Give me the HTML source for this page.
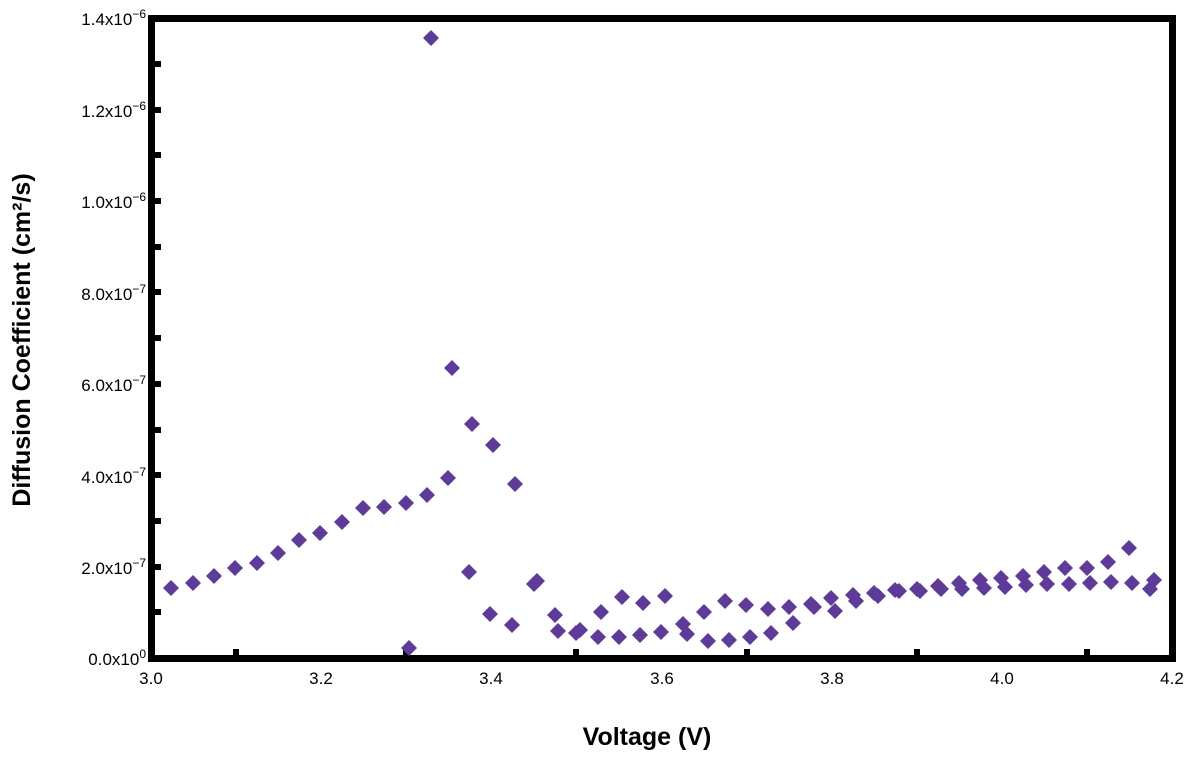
<!DOCTYPE html>
<html><head><meta charset="utf-8"><style>body{margin:0;background:#fff}</style></head><body>
<svg width="1192" height="755" xmlns="http://www.w3.org/2000/svg" font-family="Liberation Sans, sans-serif">
<defs><polygon id="d" points="0,-8 8,0 0,8 -8,0" fill="#5e3b99"/></defs>
<g fill="#000">
<rect x="148" y="15" width="1028" height="7"/>
<rect x="148" y="655" width="1028" height="7"/>
<rect x="148" y="15" width="7" height="647"/>
<rect x="1169" y="15" width="7" height="647"/>
<rect x="155" y="609" width="6" height="6"/>
<rect x="155" y="564" width="6" height="6"/>
<rect x="155" y="518" width="6" height="6"/>
<rect x="155" y="472" width="6" height="6"/>
<rect x="155" y="427" width="6" height="6"/>
<rect x="155" y="381" width="6" height="6"/>
<rect x="155" y="335" width="6" height="6"/>
<rect x="155" y="289" width="6" height="6"/>
<rect x="155" y="244" width="6" height="6"/>
<rect x="155" y="198" width="6" height="6"/>
<rect x="155" y="152" width="6" height="6"/>
<rect x="155" y="107" width="6" height="6"/>
<rect x="155" y="61" width="6" height="6"/>
<rect x="233" y="649" width="6" height="6"/>
<rect x="403" y="649" width="6" height="6"/>
<rect x="573" y="649" width="6" height="6"/>
<rect x="744" y="649" width="6" height="6"/>
<rect x="914" y="649" width="6" height="6"/>
<rect x="1084" y="649" width="6" height="6"/>
</g>
<g font-size="17" text-anchor="end" fill="#000">
<text x="146" y="665">0.0x10<tspan dy="-7" font-size="12">0</tspan></text>
<text x="146" y="574">2.0x10<tspan dy="-7" font-size="12">−7</tspan></text>
<text x="146" y="483">4.0x10<tspan dy="-7" font-size="12">−7</tspan></text>
<text x="146" y="391">6.0x10<tspan dy="-7" font-size="12">−7</tspan></text>
<text x="146" y="300">8.0x10<tspan dy="-7" font-size="12">−7</tspan></text>
<text x="146" y="208">1.0x10<tspan dy="-7" font-size="12">−6</tspan></text>
<text x="146" y="117">1.2x10<tspan dy="-7" font-size="12">−6</tspan></text>
<text x="146" y="25">1.4x10<tspan dy="-7" font-size="12">−6</tspan></text>
</g>
<g font-size="17" text-anchor="middle" fill="#000">
<text x="151" y="684">3.0</text><text x="321" y="684">3.2</text><text x="491" y="684">3.4</text>
<text x="662" y="684">3.6</text><text x="832" y="684">3.8</text><text x="1002" y="684">4.0</text><text x="1172" y="684">4.2</text>
</g>
<text x="647" y="745" font-size="25" font-weight="bold" text-anchor="middle">Voltage (V)</text>
<text transform="translate(30,340) rotate(-90)" font-size="25" font-weight="bold" text-anchor="middle">Diffusion Coefficient (cm²/s)</text>
<g>
<use href="#d" x="171" y="588"/><use href="#d" x="193" y="583"/><use href="#d" x="214" y="576"/><use href="#d" x="235" y="568"/><use href="#d" x="257" y="563"/><use href="#d" x="278" y="553"/><use href="#d" x="299" y="540"/><use href="#d" x="320" y="533"/><use href="#d" x="342" y="522"/><use href="#d" x="363" y="508"/><use href="#d" x="384" y="507"/><use href="#d" x="406" y="503"/><use href="#d" x="427" y="495"/><use href="#d" x="448" y="478"/><use href="#d" x="452" y="368"/><use href="#d" x="472" y="424"/><use href="#d" x="493" y="445"/><use href="#d" x="515" y="484"/><use href="#d" x="431" y="38"/><use href="#d" x="409" y="648"/>
<use href="#d" x="469" y="572"/><use href="#d" x="490" y="614"/><use href="#d" x="512" y="625"/><use href="#d" x="534" y="584"/><use href="#d" x="537" y="581"/><use href="#d" x="555" y="615"/><use href="#d" x="558" y="631"/><use href="#d" x="576" y="633"/><use href="#d" x="580" y="630"/><use href="#d" x="598" y="637"/><use href="#d" x="601" y="612"/><use href="#d" x="619" y="637"/><use href="#d" x="622" y="597"/><use href="#d" x="640" y="635"/><use href="#d" x="643" y="603"/><use href="#d" x="661" y="632"/><use href="#d" x="665" y="596"/><use href="#d" x="683" y="624"/><use href="#d" x="687" y="634"/><use href="#d" x="704" y="612"/><use href="#d" x="708" y="641"/><use href="#d" x="725" y="601"/><use href="#d" x="729" y="640"/><use href="#d" x="746" y="605"/><use href="#d" x="750" y="637"/><use href="#d" x="768" y="609"/><use href="#d" x="771" y="633"/><use href="#d" x="789" y="607"/><use href="#d" x="793" y="623"/><use href="#d" x="811" y="604"/><use href="#d" x="814" y="607"/><use href="#d" x="831" y="598"/><use href="#d" x="835" y="611"/><use href="#d" x="853" y="595"/><use href="#d" x="856" y="601"/><use href="#d" x="874" y="593"/><use href="#d" x="878" y="596"/><use href="#d" x="895" y="590"/><use href="#d" x="899" y="591"/><use href="#d" x="917" y="589"/><use href="#d" x="920" y="591"/><use href="#d" x="938" y="586"/><use href="#d" x="941" y="589"/><use href="#d" x="959" y="583"/><use href="#d" x="962" y="589"/><use href="#d" x="980" y="580"/><use href="#d" x="984" y="588"/><use href="#d" x="1001" y="578"/><use href="#d" x="1005" y="587"/><use href="#d" x="1023" y="576"/><use href="#d" x="1026" y="585"/><use href="#d" x="1044" y="572"/><use href="#d" x="1047" y="584"/><use href="#d" x="1065" y="568"/><use href="#d" x="1069" y="584"/><use href="#d" x="1087" y="568"/><use href="#d" x="1090" y="583"/><use href="#d" x="1108" y="562"/><use href="#d" x="1111" y="582"/><use href="#d" x="1129" y="548"/><use href="#d" x="1132" y="583"/><use href="#d" x="1150" y="589"/><use href="#d" x="1154" y="580"/>
</g>
</svg>
</body></html>
